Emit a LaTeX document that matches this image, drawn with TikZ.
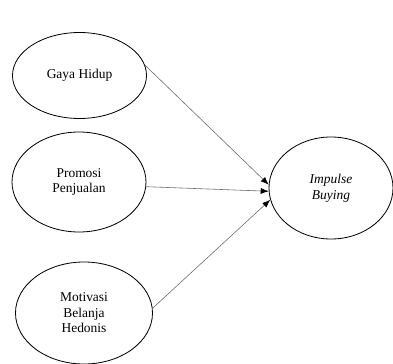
\documentclass[tikz,border=0pt]{standalone}
\usepackage{fontspec}
\setmainfont{Liberation Serif}
\usetikzlibrary{arrows.meta,positioning,shapes.geometric}

\begin{document}
\begin{tikzpicture}[
    x=0.03cm, y=-0.03cm,
    every node/.style={font=\fontsize{11.5}{13.3}\selectfont},
    var/.style={
      draw,
      ellipse,
      align=center,
      line width=0.7pt,
      inner sep=1pt
    },
    arrow/.style={-{Latex[color=black,length=2.4mm,width=1.8mm]}, draw=gray!85!black, line width=0.5pt}
  ]
    \useasboundingbox (0,0) rectangle (393,363);

    \node[var, minimum width=4.02cm, minimum height=2.58cm] (gh) at (79.5,75.5) {Gaya Hidup};
    \node[var, minimum width=4.02cm, minimum height=3.0cm] (pp) at (79,182) {Promosi\\Penjualan};
    \node[var, minimum width=4.11cm, minimum height=3.06cm] (mb) at (84,313) {Motivasi\\Belanja\\Hedonis};
    \node[var, minimum width=3.72cm, minimum height=3.06cm] (ib) at (331,188) {\textit{Impulse}\\\textit{Buying}};

    \draw[arrow] (gh.9) -- (ib.177);
    \draw[arrow] (pp.-4) -- (ib.183);
    \draw[arrow] (mb.4) -- (ib.191);
  \end{tikzpicture}
\end{document}
